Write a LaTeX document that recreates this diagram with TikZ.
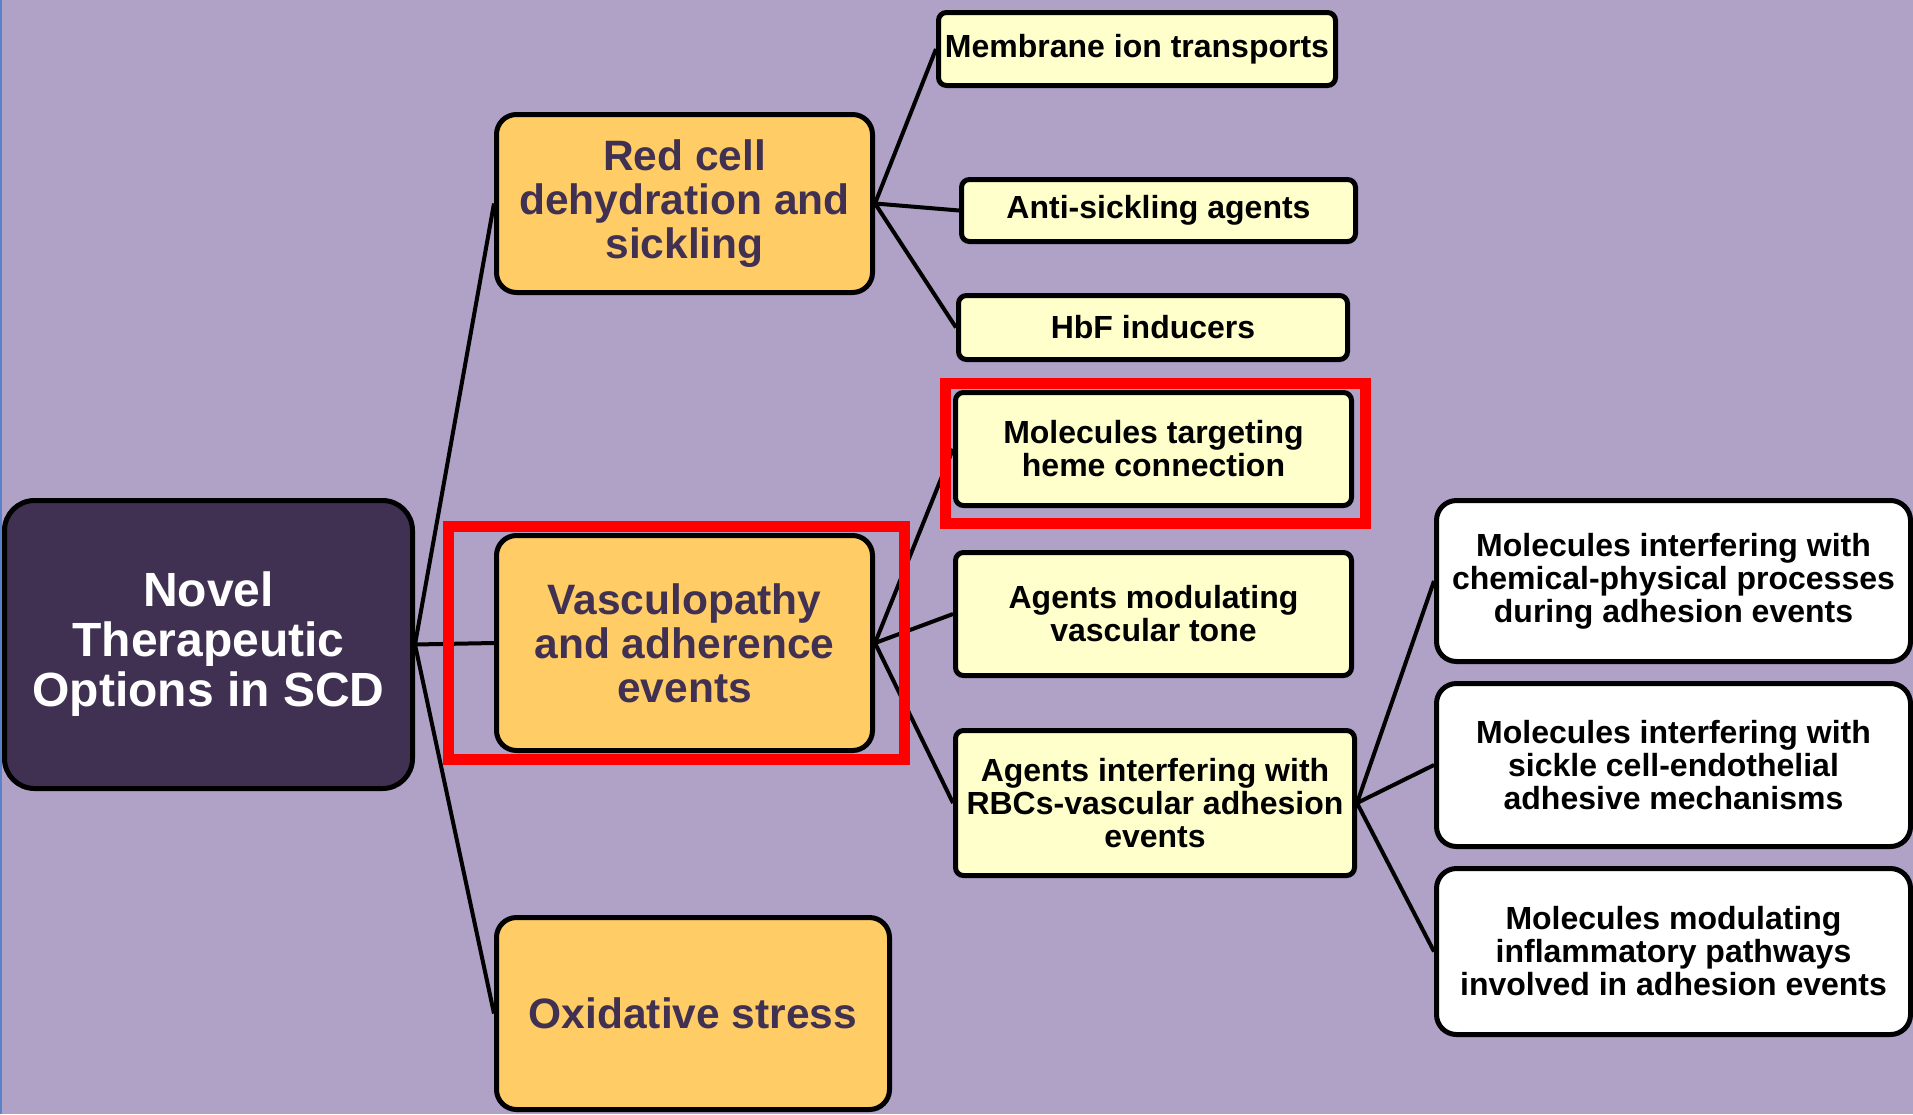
\documentclass[tikz,border=0pt]{standalone}
\usepackage{fontspec}
\setmainfont{Liberation Sans}
\definecolor{bgc}{RGB}{176,161,199}
\definecolor{rootc}{RGB}{64,49,82}
\definecolor{orangec}{RGB}{255,204,102}
\definecolor{lyel}{RGB}{255,255,204}
\definecolor{hlred}{RGB}{255,0,0}
\definecolor{edgeblue}{RGB}{90,130,200}
\begin{document}
\begin{tikzpicture}[x=1pt,y=-1pt,
  box/.style={draw=black, line width=5pt, align=center, inner sep=0pt, font=\bfseries},
  rootbox/.style={box, fill=rootc, text=white, rounded corners=30pt, font=\fontsize{48}{50}\selectfont\bfseries},
  midbox/.style={box, fill=orangec, text=rootc, rounded corners=20pt, font=\fontsize{42.5}{44}\selectfont\bfseries},
  leafbox/.style={box, fill=lyel, text=black, rounded corners=8pt, font=\fontsize{32}{33}\selectfont\bfseries},
  subbox/.style={box, fill=white, text=black, rounded corners=20pt, font=\fontsize{32}{33}\selectfont\bfseries},
  link/.style={draw=black, line width=4pt},
  hl/.style={draw=hlred, line width=11pt}]
\useasboundingbox (0,0) rectangle (1913,1114);
\fill[bgc] (0,0) rectangle (1913,1114);
\draw[edgeblue, line width=2pt] (1,0) -- (1,1114);

\node[rootbox, minimum width=408pt, minimum height=288pt] (root) at (208.5,644.5) {Novel\\Therapeutic\\Options in SCD};

\node[midbox, minimum width=376pt, minimum height=178pt] (red) at (684.5,203.5) {Red cell\\dehydration and\\sickling};
\node[midbox, minimum width=376pt, minimum height=215pt] (vasc) at (684.5,643) {Vasculopathy\\and adherence\\events};
\node[midbox, minimum width=393pt, minimum height=192pt] (oxid) at (693,1013.5) {Oxidative stress};

\node[leafbox, minimum width=397pt, minimum height=73pt] (memb) at (1137,49) {Membrane ion transports};
\node[leafbox, minimum width=394pt, minimum height=62pt] (anti) at (1158.5,210.5) {Anti-sickling agents};
\node[leafbox, minimum width=389pt, minimum height=64pt] (hbf) at (1153,327.5) {HbF inducers};
\node[leafbox, minimum width=396pt, minimum height=113pt] (heme) at (1153.5,449) {Molecules targeting\\heme connection};
\node[leafbox, minimum width=396pt, minimum height=123pt] (tone) at (1153.5,614) {Agents modulating\\vascular tone};
\node[leafbox, minimum width=399pt, minimum height=145pt] (rbc) at (1155,803) {Agents interfering with\\RBCs-vascular adhesion\\events};

\node[subbox, minimum width=474pt, minimum height=161pt] (chem) at (1673.5,581) {Molecules interfering with\\chemical-physical processes\\during adhesion events};
\node[subbox, minimum width=474pt, minimum height=163pt] (sick) at (1673.5,765) {Molecules interfering with\\sickle cell-endothelial\\adhesive mechanisms};
\node[subbox, minimum width=474pt, minimum height=166pt] (infl) at (1673.5,951.5) {Molecules modulating\\inflammatory pathways\\involved in adhesion events};

\draw[link] (root.east) -- (red.west);
\draw[link] (root.east) -- (vasc.west);
\draw[link] (root.east) -- (oxid.west);
\draw[link] (red.east) -- (memb.west);
\draw[link] (red.east) -- (anti.west);
\draw[link] (red.east) -- (hbf.west);
\draw[link] (vasc.east) -- (heme.west);
\draw[link] (vasc.east) -- (tone.west);
\draw[link] (vasc.east) -- (rbc.west);
\draw[link] (rbc.east) -- (chem.west);
\draw[link] (rbc.east) -- (sick.west);
\draw[link] (rbc.east) -- (infl.west);

\draw[hl] (448,526) rectangle (904,759);
\draw[hl] (945,383) rectangle (1365,523);
\end{tikzpicture}
\end{document}
